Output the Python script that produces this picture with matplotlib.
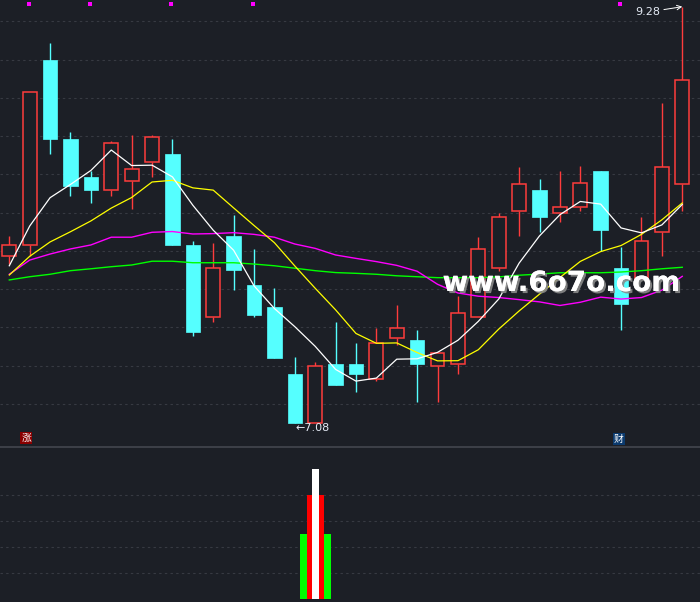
import matplotlib
matplotlib.use('Agg')
import matplotlib.pyplot as plt
import matplotlib.patheffects as pe
import matplotlib.transforms as mtrans
from matplotlib.lines import Line2D
import numpy as np

# daily candles
opens = [7.96, 8.02, 9.00, 8.58, 8.38, 8.31, 8.36, 8.46, 8.50, 8.02, 7.64, 8.07, 7.81, 7.69, 7.34, 7.08, 7.39,
         7.39, 7.31, 7.53, 7.52, 7.38, 7.39, 7.64, 7.90, 8.20, 8.31, 8.19, 8.22, 8.41, 7.90, 7.84, 8.09, 8.34]
closes = [8.02, 8.83, 8.58, 8.33, 8.31, 8.56, 8.42, 8.59, 8.02, 7.56, 7.90, 7.89, 7.65, 7.42, 7.08, 7.38, 7.28,
          7.34, 7.50, 7.58, 7.39, 7.45, 7.66, 8.00, 8.17, 8.34, 8.17, 8.22, 8.35, 8.10, 7.71, 8.04, 8.43, 8.89]
highs = [8.07, 8.83, 9.09, 8.62, 8.41, 8.57, 8.60, 8.60, 8.58, 8.04, 8.03, 8.18, 8.00, 7.79, 7.43, 7.40, 7.61,
         7.50, 7.58, 7.70, 7.57, 7.45, 7.75, 8.06, 8.19, 8.43, 8.37, 8.41, 8.44, 8.41, 8.01, 8.17, 8.77, 9.28]
lows = [7.92, 7.96, 8.50, 8.28, 8.24, 8.28, 8.21, 8.38, 8.02, 7.54, 7.61, 7.78, 7.64, 7.42, 7.08, 7.08, 7.28,
        7.24, 7.30, 7.49, 7.19, 7.19, 7.34, 7.64, 7.88, 8.07, 8.09, 8.14, 8.20, 7.99, 7.57, 7.84, 7.96, 8.20]

# moving averages (white MA5, yellow MA10, magenta MA20, green MA60)
ma5 = [7.91, 8.12, 8.27, 8.34, 8.414, 8.522, 8.44, 8.442, 8.38, 8.23, 8.098, 7.992, 7.804, 7.684, 7.588, 7.484,
       7.362, 7.30, 7.316, 7.416, 7.418, 7.452, 7.516, 7.616, 7.734, 7.924, 8.068, 8.18, 8.25, 8.236, 8.11,
       8.084, 8.126, 8.234]
ma10 = [7.861, 7.96, 8.036, 8.09, 8.147, 8.215, 8.271, 8.353, 8.362, 8.322, 8.31, 8.216, 8.123, 8.032, 7.909,
        7.791, 7.677, 7.552, 7.50, 7.502, 7.451, 7.407, 7.408, 7.466, 7.575, 7.671, 7.76, 7.848, 7.933, 7.985,
        8.017, 8.076, 8.153, 8.242]
ma20 = [7.865, 7.94, 7.972, 7.999, 8.02, 8.061, 8.061, 8.087, 8.091, 8.078, 8.08, 8.085, 8.076, 8.061, 8.025,
        8.002, 7.967, 7.949, 7.932, 7.912, 7.881, 7.812, 7.766, 7.749, 7.742, 7.731, 7.719, 7.70, 7.717, 7.744,
        7.734, 7.742, 7.781, 7.854]
ma60 = [7.835, 7.852, 7.865, 7.884, 7.894, 7.905, 7.914, 7.934, 7.934, 7.926, 7.926, 7.926, 7.919, 7.91, 7.897,
        7.884, 7.874, 7.87, 7.865, 7.857, 7.852, 7.847, 7.847, 7.847, 7.851, 7.86, 7.866, 7.873, 7.873, 7.873,
        7.877, 7.884, 7.894, 7.902]

# signal dots on top, text markers and lower-panel bars
dot_idx = [1, 4, 8, 12, 30]
zhang_idx = 1
cai_idx = 30
bar_idx = 15
bar_green = 2.5
bar_red = 4.0
bar_white = 5.0

bg = '#1c1f26'
up_col = '#ff3c3c'
dn_col = '#55ffff'
grid_col = '#373a42'

plt.rcParams['font.family'] = ['DejaVu Sans', 'Noto Sans CJK SC']

fig = plt.figure(figsize=(7, 6.02), dpi=100, facecolor=bg)
ax = fig.add_axes([0, 156 / 602, 1, 446 / 602])
ax2 = fig.add_axes([0, 0, 1, 154 / 602])

x = np.arange(len(closes))
o = np.array(opens); c = np.array(closes); h = np.array(highs); l = np.array(lows)
up = c >= o
lo = np.minimum(o, c); hi = np.maximum(o, c)

ymax = 9.3154
ymin = ymax - 446 / 189.1
xl = (-0.456, 33.87)

# dashed grid (evenly spaced panel divisions)
for k in range(11):
  frac = 1 - (21.3 + 38.27 * k) / 446
  ax.axhline(ymin + frac * (ymax - ymin), color=grid_col, lw=0.8, ls=(0, (2.2, 2.9)), zorder=0)

# wicks
ax.vlines(x[~up], l[~up], h[~up], color=dn_col, lw=1.0, zorder=2)
ax.vlines(x[up], hi[up], h[up], color=up_col, lw=1.0, zorder=2)
ax.vlines(x[up], l[up], lo[up], color=up_col, lw=1.0, zorder=2)
# bodies
ax.bar(x[~up], (hi - lo)[~up], bottom=lo[~up], width=0.71, color=dn_col, edgecolor=dn_col, lw=0.5, zorder=3)
ax.bar(x[up], np.maximum((hi - lo)[up], 0.005), bottom=lo[up], width=0.68, facecolor=bg,
       edgecolor=up_col, lw=1.1, zorder=3)

# moving averages
ax.plot(x, ma60, color='#00ff00', lw=1.0, zorder=4)
ax.plot(x, ma20, color='#ff00ff', lw=1.0, zorder=4)
ax.plot(x, ma10, color='#ffff00', lw=0.9, zorder=5)
ax.plot(x, ma5, color='#ffffff', lw=0.9, zorder=6)

trans = mtrans.blended_transform_factory(ax.transData, ax.transAxes)
ax.plot(np.array(dot_idx) - 0.05, [1 - 4.3 / 446] * len(dot_idx), 's', color='#ff00ff',
        ms=2.3, mew=0, transform=trans, zorder=6)

# high / low labels
txt_col = '#e4eaf4'
imax = int(np.argmax(h)); imin = int(np.argmin(l))
ax.annotate('%.2f' % h[imax], xy=(imax, h[imax]), xytext=(-35, -5.5), textcoords='offset pixels',
            ha='center', va='center', color=txt_col, fontsize=8, zorder=7,
            arrowprops=dict(arrowstyle='->', color='white', lw=0.7, shrinkA=1, shrinkB=0))
ax.annotate('\u2190%.2f' % l[imin], xy=(imin, l[imin]), xytext=(1, -5), textcoords='offset pixels',
            ha='left', va='center', color=txt_col, fontsize=8, zorder=7)

# zhang / cai tags
ax.text(zhang_idx - 0.17, 1 - 438 / 446, '涨', transform=trans, ha='center', va='center', fontsize=7,
        color='white', family=['Noto Sans CJK SC', 'DejaVu Sans'],
        bbox=dict(boxstyle='square,pad=0.12', fc='#8a0000', ec='none'), zorder=7)
ax.text(cai_idx - 0.12, 1 - 439 / 446, '财', transform=trans, ha='center', va='center', fontsize=7,
        color='white', family=['Noto Sans CJK SC', 'DejaVu Sans'],
        bbox=dict(boxstyle='square,pad=0.12', fc='#0b3a6e', ec='none'), zorder=7)

ax.set_xlim(*xl)
ax.set_ylim(ymin, ymax)
ax.axis('off')

# lower panel
base_px = 599.3
for k in range(1, 5):
  ax2.axhline(k, color=grid_col, lw=0.8, ls=(0, (2.2, 2.9)), zorder=0)
ax2.bar([bar_idx], [bar_green], width=1.52, color='#00ff00', zorder=2)
ax2.bar([bar_idx], [bar_red], width=0.83, color='#ff0000', zorder=3)
ax2.bar([bar_idx], [bar_white], width=0.34, color='#ffffff', zorder=4)
ax2.set_xlim(*xl)
ax2.set_ylim(-(602 - base_px) / 26, (base_px - 448) / 26)
ax2.axis('off')

# panel separator
fig.add_artist(Line2D([0, 1], [1 - 447.3 / 602] * 2, color='#474a52', lw=1.1, transform=fig.transFigure))

# watermark
fig.text(561.5 / 700, 1 - 291 / 602, 'www.6o7o.com', ha='center', va='baseline', fontsize=20,
         fontweight='bold', color='white', zorder=10,
         path_effects=[pe.withSimplePatchShadow(offset=(1.5, -1.5), shadow_rgbFace='#8a8a8a', alpha=0.9),
                       pe.Normal()])

fig.savefig('out.png', dpi=100, facecolor=bg)
